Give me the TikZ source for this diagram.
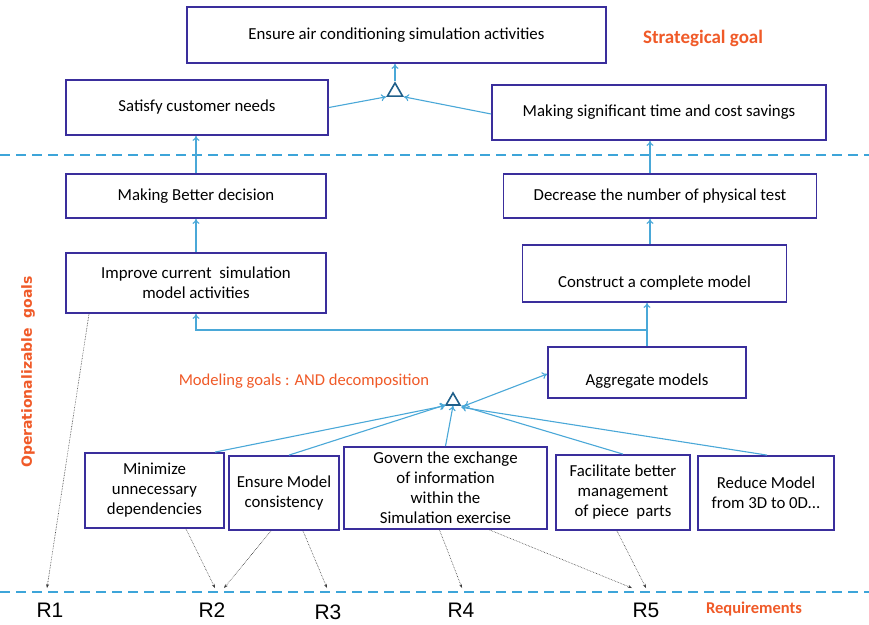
\documentclass[tikz,border=0pt]{standalone}
\usepackage{fontspec}
\setmainfont{Carlito}
\newfontfamily\rfont{Liberation Sans}
\newfontfamily\sidefont{DejaVu Sans}
\usetikzlibrary{arrows.meta,shapes.geometric,calc}
\definecolor{boxblue}{HTML}{3A2E9C}
\definecolor{linkblue}{HTML}{4AA8D8}
\definecolor{dashblue}{HTML}{3DA5D9}
\definecolor{andblue}{HTML}{1F5F8A}
\definecolor{labelorange}{HTML}{F05A28}
\definecolor{tracegray}{HTML}{3A3A3A}
\tikzset{
  goal/.style={draw=boxblue, line width=1.8pt, fill=white, align=center,
    inner sep=2pt, font=\fontsize{16.8}{20}\selectfont},
  goaltext/.style={align=center, inner sep=0pt, font=\fontsize{16.8}{20}\selectfont},
  link/.style={draw=linkblue, line width=1.1pt, -{To[length=5pt,width=7pt]}},
  andgate/.style={draw=andblue, line width=1.6pt, regular polygon,
    regular polygon sides=3, inner sep=0pt},
  sepline/.style={draw=dashblue, line width=2.2pt, dash pattern=on 10pt off 6pt},
  trace/.style={draw=tracegray, line width=0.6pt, densely dotted,
    -{Stealth[length=4pt,width=3pt]}},
  reqlabel/.style={font=\rfont\fontsize{21}{22}\selectfont},
  tag/.style={text=labelorange}
}
\begin{document}
\begin{tikzpicture}[x=1pt,y=-1pt]
\useasboundingbox[fill=white] (0,0) rectangle (869,624);

% level separators
\draw[sepline] (0,155) -- (869,155);
\draw[sepline] (0,592) -- (869,592);

% strategic goals
\node[goal, minimum width=419pt, minimum height=56pt] (top) at (396.5,35) {Ensure air conditioning simulation activities};
\node[goal, minimum width=262pt, minimum height=55pt] (satisfy) at (197,107.5) {Satisfy customer needs};
\node[goal, minimum width=334pt, minimum height=55pt] (saving) at (659,112.5) {Making significant time and cost savings};
\node[andgate, minimum size=17.4pt] (and1) at (395,91.7) {};

% operationalizable goals
\node[goal, minimum width=260pt, minimum height=44pt] (better) at (196,196) {Making Better decision};
\node[goal, minimum width=313pt, minimum height=44pt] (decrease) at (660,196) {Decrease the number of physical test};
\node[goal, minimum width=260pt, minimum height=60pt] (improve) at (196,283) {Improve current\ \ simulation\\model activities};
\node[goal, minimum width=264pt, minimum height=57pt] (construct) at (654.5,273.5) {};
\node[goaltext] (constructtext) at (654.5,283.5) {Construct a complete model};
\node[goal, minimum width=198pt, minimum height=51pt] (aggregate) at (647,372.5) {};
\node[goaltext] (aggregatetext) at (647,381) {Aggregate models};
\node[andgate, minimum size=16pt] (and2) at (453,401) {};

% modeling goals
\node[goal, minimum width=139pt, minimum height=75pt] (minimize) at (154.5,490.5) {Minimize\\unnecessary\\dependencies};
\node[goal, minimum width=110pt, minimum height=74pt] (consist) at (284,493) {Ensure Model\\consistency};
\node[goal, minimum width=203pt, minimum height=82pt] (govern) at (445.5,488) {Govern the exchange\\of information\\within the\\Simulation exercise};
\node[goal, minimum width=134pt, minimum height=75pt] (facil) at (623,492.5) {Facilitate better\\management\\of piece\ \ parts};
\node[goal, minimum width=136pt, minimum height=74pt] (reduce) at (766,493) {Reduce Model\\from 3D to 0D...};

% side labels
\node[tag, font=\bfseries\fontsize{19}{21}\selectfont] (strat) at (703,38) {Strategical goal};
\node[tag, font=\sidefont\bfseries\fontsize{14}{16}\selectfont, rotate=90] (oper) at (28,372) {Operationalizable\ \ goals};
\node[tag, font=\fontsize{16.6}{18}\selectfont] (modeling) at (304,381) {Modeling goals : AND decomposition};
\node[tag, font=\bfseries\fontsize{16.5}{18}\selectfont] (reqs) at (754,609) {Requirements};

% requirement labels
\node[reqlabel] (R1) at (50,610) {R1};
\node[reqlabel] (R2) at (212,610) {R2};
\node[reqlabel] (R3) at (328,612) {R3};
\node[reqlabel] (R4) at (461,610) {R4};
\node[reqlabel] (R5) at (646,610) {R5};

% AND refinement of the strategic goal
\draw[link] (and1.north) -- (top.south -| and1.north);
\draw[link] (satisfy.east) -- (and1.corner 2);
\draw[link] ([yshift=-1.5pt]saving.west) -- (and1.corner 3);

% contribution chains
\coordinate (cx) at (650,0);
\draw[link] (better.north) -- (satisfy.south -| better.north);
\draw[link] (improve.north) -- (better.south -| improve.north);
\draw[link] (decrease.north -| cx) -- (saving.south -| cx);
\draw[link] (construct.north -| cx) -- (decrease.south -| cx);
\coordinate (junc) at (aggregate.north |- 0,330);
\draw[link] (aggregate.north) -- (junc) -| (improve.south);
\draw[link] (junc) -- (junc |- construct.south);

% AND decomposition of the modeling goals
\draw[link, {To[length=5pt,width=7pt]}-{To[length=5pt,width=7pt]}] ([xshift=3pt]and2.corner 3) -- ([yshift=-1.5pt]aggregate.west);
\draw[link] ([xshift=60.5pt]minimize.north) -- (and2.corner 2);
\draw[link] ([xshift=5pt]consist.north) -- ([xshift=1pt,yshift=1pt]and2.corner 2);
\draw[link] (govern.north) -- (and2.south);
\draw[link] (facil.north) -- (and2.corner 3);
\draw[link] ([xshift=1pt]reduce.north) -- ([yshift=-1.5pt]and2.corner 3);

% traceability to requirements
\coordinate (t1) at (47,588);
\coordinate (t2a) at (215,588);
\coordinate (t2b) at (224,588);
\coordinate (t3) at (327,588);
\coordinate (t4) at (462,588);
\coordinate (t5a) at (632,588);
\coordinate (t5b) at (646,588);
\draw[trace] ([xshift=-107pt]improve.south) -- (t1);
\draw[trace] ([xshift=31.5pt]minimize.south) -- (t2a);
\draw[trace] ([xshift=-13pt]consist.south) -- (t2b);
\draw[trace] ([xshift=19pt]consist.south) -- (t3);
\draw[trace] ([xshift=-6pt]govern.south) -- (t4);
\draw[trace] ([xshift=44pt]govern.south) -- (t5a);
\draw[trace] ([xshift=-6pt]facil.south) -- (t5b);
\end{tikzpicture}
\end{document}
